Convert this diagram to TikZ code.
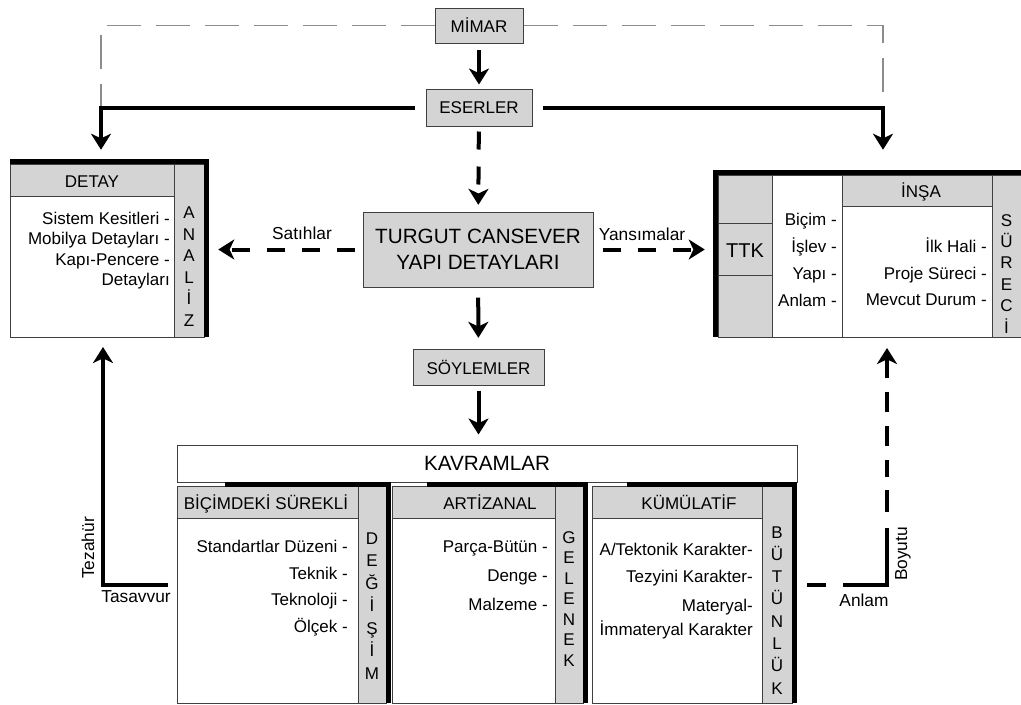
\documentclass[tikz,border=0pt]{standalone}
\usepackage{fontspec}
\setmainfont{Liberation Sans}
\usetikzlibrary{
  arrows.meta,   % Stealth tips
  positioning,
  fit            % frames round the panels
}
\definecolor{panelgrey}{RGB}{212,212,212}
\definecolor{edgegrey}{RGB}{64,64,64}
\def\pxu{0.75pt}

\begin{document}
\begin{tikzpicture}[x=0.75pt, y=-0.75pt,
  >={Stealth[length=12pt,width=15pt,inset=3.5pt]},
  box/.style={draw=edgegrey, line width=0.75pt, fill=panelgrey, inner sep=0pt,
    font=\fontsize{12.75}{15}\selectfont},
  thinline/.style={draw=edgegrey, line width=0.75pt},
  cell/.style={fill=panelgrey, draw=edgegrey, line width=0.75pt},
  blackedge/.style={draw=black, line width=3.75pt},
  mainarrow/.style={->, line width=3pt},
  dasharrow/.style={->, line width=3pt, dash pattern=on 13.5pt off 12.75pt},
  greydash/.style={draw=black!45, line width=0.9pt, dash pattern=on 25.5pt off 11.25pt},
  item/.style={inner sep=0pt, font=\fontsize{12.75}{15}\selectfont},
  lbl/.style={inner sep=0pt, font=\fontsize{13}{15}\selectfont},
  big/.style={inner sep=0pt, font=\fontsize{15.5}{19.5}\selectfont}]
  \useasboundingbox (0,0) rectangle (1021,704);

  % ust kutular
  \node[box, minimum width=88*\pxu, minimum height=35*\pxu] (mimar) at (479,25.5) {MİMAR};
  \node[box, minimum width=106*\pxu, minimum height=37*\pxu] (eserler) at (479,107.5) {ESERLER};
  \node[box, minimum width=230*\pxu, minimum height=75*\pxu, align=center,
    font=\fontsize{15.5}{19.5}\selectfont] (turgut) at (478,249.5) {TURGUT CANSEVER\\YAPI DETAYLARI};
  \node[box, minimum width=131*\pxu, minimum height=36*\pxu] (soylemler) at (478.5,367) {SÖYLEMLER};

  % DETAY paneli
  \fill[white] (10,164) rectangle (204,337);
  \filldraw[cell] (10,164) rectangle (174,196);
  \filldraw[cell] (174,164) rectangle (204,337);
  \draw[thinline] (10,164) rectangle (204,337);
  \draw[blackedge] (10,161.5) -- (206.5,161.5) -- (206.5,337);
  \node[fit={(10,160) (209,337)}, inner sep=0pt] (detay) {};
  \node[item, anchor=base] (detayhead) at (92,187) {DETAY};
  \foreach \t [count=\i] in {Sistem Kesitleri -, Mobilya Detayları -, Kapı-Pencere -, Detayları}
    \node[item, anchor=base east] (detay-\i) at (170,203.5+\i*20.5) {\t};
  \foreach \c [count=\i] in {A,N,A,L,İ,Z}
    \node[item, anchor=base] (analiz-\i) at (189,196.9+\i*21.6) {\c};

  % INSA paneli
  \fill[white] (718,175) rectangle (1021,337);
  \filldraw[cell] (718,175) rectangle (772,337);
  \filldraw[cell] (842,175) rectangle (992,206);
  \filldraw[cell] (992,175) rectangle (1021,337);
  \draw[thinline] (718,175) rectangle (1021,337) (718,223) -- (772,223)
    (718,275) -- (772,275) (842,175) -- (842,337);
  \draw[blackedge] (715.5,337) -- (715.5,172.5) -- (1021,172.5);
  \node[fit={(713,170) (1021,337)}, inner sep=0pt] (insa) {};
  \node[item, anchor=base] (insahead) at (921,197) {İNŞA};
  \node[big, anchor=base, font=\fontsize{15}{18}\selectfont] (ttk) at (745,257) {TTK};
  \foreach \t [count=\i] in {Biçim -, İşlev -, Yapı -, Anlam -}
    \node[item, anchor=base east] (ttk-\i) at (837,198+\i*27) {\t};
  \foreach \t [count=\i] in {İlk Hali -, Proje Süreci -, Mevcut Durum -}
    \node[item, anchor=base east] (insa-\i) at (987,226+\i*26.5) {\t};
  \foreach \c [count=\i] in {S,Ü,R,E,C,İ}
    \node[item, anchor=base] (sureci-\i) at (1006.5,204.6+\i*21.4) {\c};

  % KAVRAMLAR
  \node[box, fill=white, big, minimum width=620*\pxu, minimum height=37*\pxu] (kavramlar) at (487,463.5) {KAVRAMLAR};
  \foreach \l/\c/\r/\s in {177/358/386/225, 392/555/583/427, 592/762/792/627} {
    \fill[white] (\l,486) rectangle (\r,703);
    \filldraw[cell] (\l,486) rectangle (\c,518);
    \filldraw[cell] (\c,486) rectangle (\r,703);
    \draw[thinline] (\l,486) rectangle (\r,703);
    \draw[blackedge] (\s,484) -- (\r+2.5,484) -- (\r+2.5,703);
  }
  \node[item, anchor=base] (bicimdeki) at (266,509) {BİÇİMDEKİ SÜREKLİ};
  \node[item, anchor=base] (artizanal) at (490,509) {ARTİZANAL};
  \node[item, anchor=base] (kumulatif) at (689,509) {KÜMÜLATİF};

  \foreach \t [count=\i] in {Standartlar Düzeni -, Teknik -, Teknoloji -, Ölçek -}
    \node[item, anchor=base east] (bicim-\i) at (348,526.5+\i*26.4) {\t};
  \foreach \c [count=\i] in {D,E,Ğ,İ,Ş,İ,M}
    \node[item, anchor=base] (degisim-\i) at (372,521.5+\i*22.5) {\c};

  \foreach \t [count=\i] in {Parça-Bütün -, Denge -, Malzeme -}
    \node[item, anchor=base east] (artiz-\i) at (548,523+\i*29) {\t};
  \foreach \c [count=\i] in {G,E,L,E,N,E,K}
    \node[item, anchor=base] (gelenek-\i) at (569,522.5+\i*20.5) {\c};

  \node[item, anchor=base east] (kumul-1) at (753,555) {A/Tektonik Karakter-};
  \node[item, anchor=base east] (kumul-2) at (753,582) {Tezyini Karakter-};
  \node[item, anchor=base east] (kumul-3) at (753,611) {Materyal-};
  \node[item, anchor=base east] (kumul-4) at (753,635) {İmmateryal Karakter};
  \foreach \c [count=\i] in {B,Ü,T,Ü,N,L,Ü,K}
    \node[item, anchor=base] (butunluk-\i) at (777,515.7+\i*22.3) {\c};

  % etiketler
  \node[lbl] (satihlar) at (302,233) {Satıhlar};
  \node[lbl] (yansimalar) at (642,234) {Yansımalar};
  \node[lbl, rotate=90] (tezahur) at (88,548) {Tezahür};
  \node[lbl] (tasavvur) at (136,597) {Tasavvur};
  \node[lbl] (anlam) at (864,600) {Anlam};
  \node[lbl, rotate=90] (boyutu) at (903,554) {Boyutu};

  % baglantilar
  \coordinate (lcorner) at (101,107);
  \coordinate (rcorner) at (883,107);
  \coordinate (kavleft) at (177,585);
  \coordinate (kavright) at (797,585);
  \coordinate (detaybottom) at (103,337);
  \coordinate (insabottom) at (887,337);

  \draw[greydash] (mimar.west) -| (lcorner);
  \draw[greydash] (mimar.east) -| (rcorner);
  \draw[mainarrow, shorten <=8pt, shorten >=7.5pt] (eserler.west) -| (detay.north -| lcorner);
  \draw[mainarrow, shorten <=7.5pt, shorten >=15pt] (eserler.east) -| (insa.north -| rcorner);
  \draw[mainarrow, shorten <=5pt, shorten >=3pt] (mimar) -- (eserler);
  \draw[dasharrow, shorten <=3.75pt, shorten >=5pt] (eserler) -- (turgut);
  \draw[mainarrow, shorten <=7.5pt, shorten >=8pt] (turgut) -- (soylemler);
  \draw[mainarrow, shorten <=3.75pt, shorten >=7.5pt] (soylemler) -- (soylemler |- kavramlar.north);
  \draw[dasharrow, shorten <=6pt, shorten >=6.75pt] (turgut.west) -- (turgut.west -| detay.east);
  \draw[dasharrow, shorten <=6.75pt, shorten >=6pt] (turgut.east) -- (turgut.east -| insa.west);
  \draw[mainarrow, shorten <=6.75pt, shorten >=7.5pt] (kavleft) -| (detaybottom);
  \draw[mainarrow, shorten <=7.5pt, shorten >=8.25pt,
    dash pattern=on 14.25pt off 12.75pt on 75.75pt off 12pt on 16.5pt off 9.75pt on 12.75pt off 10.5pt
    on 15pt off 10.5pt on 15pt off 10.5pt on 15pt off 10.5pt on 30pt off 10pt] (kavright) -| (insabottom);
\end{tikzpicture}
\end{document}
